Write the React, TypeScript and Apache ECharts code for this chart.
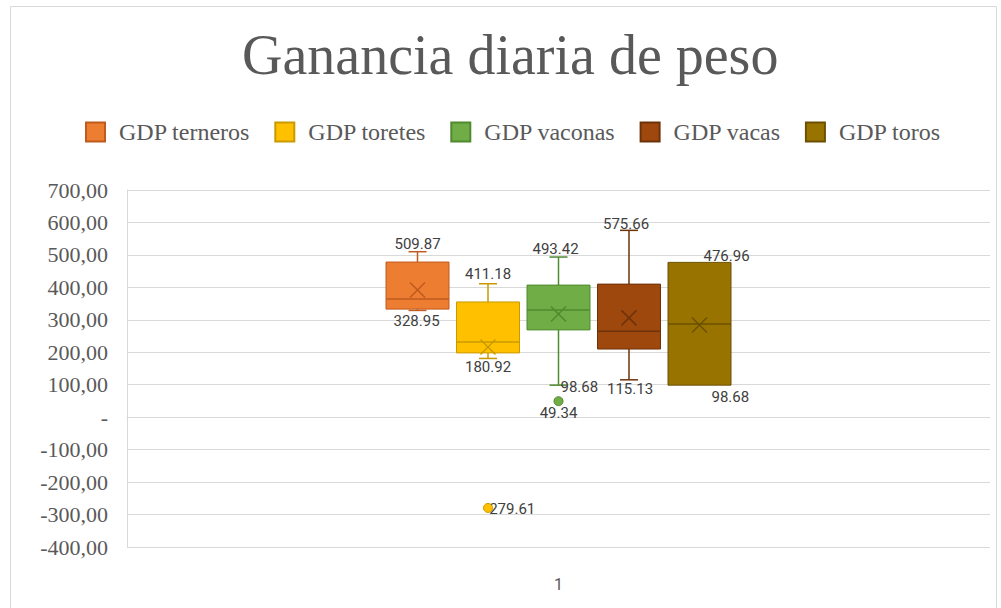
import React, { useEffect, useRef } from "react";
import * as echarts from "echarts";

// ---- data ----
const categories = ["1"];
const seriesNames = ["GDP terneros", "GDP toretes", "GDP vaconas", "GDP vacas", "GDP toros"];
const minValues = [328.95, 180.92, 98.68, 115.13, 98.68];
const q1Values = [333, 198, 269, 210, 98.68];
const medianValues = [364, 232, 330, 265, 287];
const q3Values = [478, 355, 407, 410, 476.96];
const maxValues = [509.87, 411.18, 493.42, 575.66, 476.96];
const meanValues = [392, 216, 318, 306, 284];
const outlierValues: number[][] = [[], [-279.61], [49.34], [], []];
const yTicks = { min: -400, max: 700, interval: 100 };

// ---- styles ----
const fillColors = ["#ED7D31", "#FFC000", "#70AD47", "#9E480E", "#997300"];
const darkColors = ["#BE5B1E", "#C99A00", "#4F8A2E", "#6E3209", "#6B5000"];
const STEP = 70.5 / 863;
const BOX = 63 / 863;
type LP = { dx: number; dy: number; align: string };
const maxLabelPos: LP[] = [
  { dx: 0, dy: -8, align: "center" },
  { dx: 0, dy: -10, align: "center" },
  { dx: -3, dy: -8, align: "center" },
  { dx: -3, dy: -6, align: "center" },
  { dx: 4, dy: -6, align: "left" },
];
const minLabelPos: LP[] = [
  { dx: -1, dy: 11, align: "center" },
  { dx: 0, dy: 9, align: "center" },
  { dx: 2, dy: 2, align: "left" },
  { dx: 1, dy: 9, align: "center" },
  { dx: 12, dy: 12, align: "left" },
];
const outlierLabelPos: LP[] = [
  { dx: 0, dy: 0, align: "center" },
  { dx: -3, dy: 1, align: "left" },
  { dx: 0, dy: 12, align: "center" },
  { dx: 0, dy: 0, align: "center" },
  { dx: 0, dy: 0, align: "center" },
];
const LABEL_FONT = "15px Roboto";
const LABEL_COLOR = "#404040";

function fmt(v: number) {
  return v.toFixed(2);
}

function makeRenderItem(i: number) {
  return (params: any, api: any) => {
    const cat = api.value(0);
    const band = api.size([1, 0])[0];
    const base = api.coord([cat, 0])[0];
    const cx = base + (i - 2) * band * STEP;
    const w = band * BOX;
    const Y = (v: number) => api.coord([cat, v])[1];
    const mn = api.value(1), q1 = api.value(2), md = api.value(3), q3 = api.value(4), mx = api.value(5), mean = api.value(6);
    const dark = darkColors[i];
    const fill = fillColors[i];
    const lineStyle = { stroke: dark, lineWidth: 1.5 };
    const children: any[] = [];
    if (mx > q3) {
      children.push({ type: "line", shape: { x1: cx, y1: Y(q3), x2: cx, y2: Y(mx) }, style: lineStyle });
      children.push({ type: "line", shape: { x1: cx - 9, y1: Y(mx), x2: cx + 9, y2: Y(mx) }, style: lineStyle });
    }
    if (mn < q1) {
      children.push({ type: "line", shape: { x1: cx, y1: Y(q1), x2: cx, y2: Y(mn) }, style: lineStyle });
      children.push({ type: "line", shape: { x1: cx - 9, y1: Y(mn), x2: cx + 9, y2: Y(mn) }, style: lineStyle });
    }
    children.push({
      type: "rect",
      shape: { x: cx - w / 2, y: Y(q3), width: w, height: Y(q1) - Y(q3) },
      style: { fill, stroke: dark, lineWidth: 1 },
    });
    children.push({ type: "line", shape: { x1: cx - w / 2, y1: Y(md), x2: cx + w / 2, y2: Y(md) }, style: lineStyle });
    const ym = Y(mean);
    children.push({ type: "line", shape: { x1: cx - 7.5, y1: ym - 7.5, x2: cx + 7.5, y2: ym + 7.5 }, style: lineStyle });
    children.push({ type: "line", shape: { x1: cx - 7.5, y1: ym + 7.5, x2: cx + 7.5, y2: ym - 7.5 }, style: lineStyle });

    const addLabel = (v: number, p: LP) => {
      children.push({
        type: "text",
        x: cx + p.dx,
        y: Y(v) + p.dy,
        style: { text: fmt(v), fill: LABEL_COLOR, font: LABEL_FONT, align: p.align, verticalAlign: "middle" },
      });
    };
    addLabel(mx, maxLabelPos[i]);
    addLabel(mn, minLabelPos[i]);
    outlierValues[i].forEach((o) => addLabel(o, outlierLabelPos[i]));
    outlierValues[i].forEach((o) => {
      children.push({ type: "circle", shape: { cx, cy: Y(o), r: 4.5 }, style: { fill, stroke: dark, lineWidth: 1 } });
    });
    return { type: "group", children };
  };
}

function yLabel(v: number) {
  if (v === 0) return "-";
  return v.toFixed(2).replace(".", ",");
}

export default function App() {
  const ref = useRef<HTMLDivElement>(null);
  useEffect(() => {
    if (!ref.current) return;
    const chart = echarts.init(ref.current, undefined, { renderer: "svg" });
    const series = seriesNames.map((name, i) => ({
      name,
      type: "custom",
      renderItem: makeRenderItem(i),
      clip: false,
      itemStyle: { color: fillColors[i], borderColor: darkColors[i], borderWidth: 1 },
      encode: { x: 0, y: [1, 2, 3, 4, 5, 6] },
      data: categories.map((_, c) => [c, minValues[i], q1Values[i], medianValues[i], q3Values[i], maxValues[i], meanValues[i]]),
    }));
    chart.setOption({
      animation: false,
      backgroundColor: "#ffffff",
      title: {
        text: "Ganancia diaria de peso",
        left: 237,
        top: 22,
        textStyle: { fontFamily: "Liberation Serif", fontSize: 56, fontWeight: "normal", color: "#595959" },
      },
      legend: {
        data: seriesNames,
        left: 80,
        top: 115,
        icon: "rect",
        itemWidth: 19,
        itemHeight: 19,
        itemGap: 24,
        textStyle: { fontFamily: "Liberation Serif", fontSize: 24, color: "#595959", padding: [0, 0, 0, 9] },
      },
      grid: { left: 127, right: 11, top: 190, bottom: 61 },
      xAxis: {
        type: "category",
        data: categories,
        axisLine: { show: true, lineStyle: { color: "#d9d9d9" } },
        axisTick: { show: false },
        axisLabel: { fontFamily: "Roboto", fontSize: 16, color: "#595959", margin: 29 },
        splitLine: { show: false },
      },
      yAxis: {
        type: "value",
        min: yTicks.min,
        max: yTicks.max,
        interval: yTicks.interval,
        axisLine: { show: true, lineStyle: { color: "#d9d9d9" } },
        axisTick: { show: false },
        splitLine: { show: true, lineStyle: { color: "#d9d9d9", width: 1 } },
        axisLabel: { fontFamily: "Liberation Serif", fontSize: 22, color: "#595959", margin: 19, formatter: yLabel },
      },
      graphic: [
        {
          type: "rect",
          shape: { x: 10.5, y: 6.5, width: 986, height: 610 },
          style: { fill: "none", stroke: "#d9d9d9", lineWidth: 1 },
          silent: true,
        },
      ],
      series,
    });
    return () => chart.dispose();
  }, []);
  return <div ref={ref} style={{ position: "fixed", left: 0, top: 0, width: 1001, height: 608 }} />;
}
